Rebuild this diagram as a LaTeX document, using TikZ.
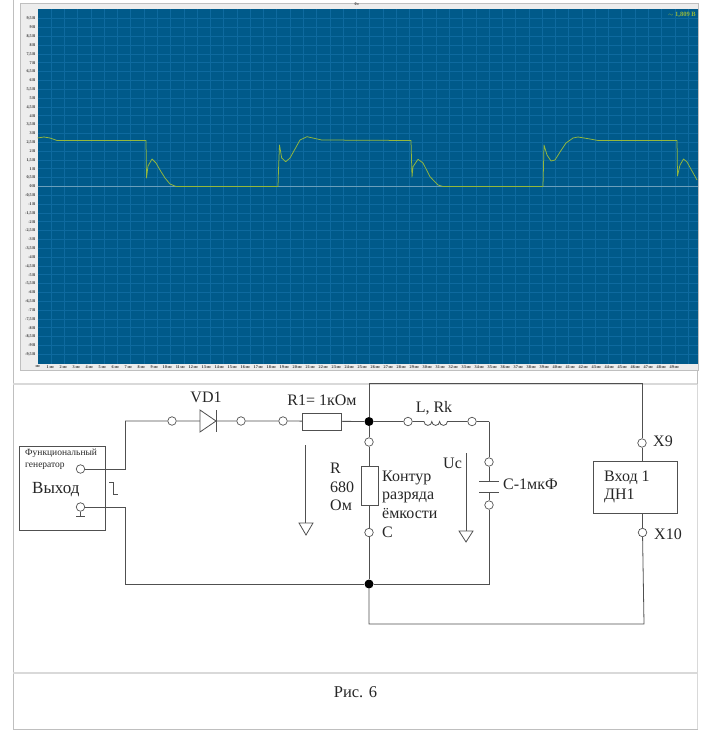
\documentclass[tikz,border=0pt]{standalone}
\usepackage{fontspec}
\setmainfont{Liberation Serif}
\definecolor{scopebg}{HTML}{005A8A}
\definecolor{scopegrid}{HTML}{0E6A9F}
\definecolor{scopetrace}{HTML}{94B83C}
\definecolor{wirecol}{HTML}{505050}
\begin{document}
\begin{tikzpicture}[x=1pt,y=-1pt]
        \tikzstyle{every node}=[inner sep=0pt,text=black!85]
        \tikzstyle{wire}=[draw=wirecol,line width=0.8pt]
        \tikzstyle{term}=[draw=wirecol,fill=white,circle,line width=0.7pt,minimum size=8.5pt]
        \tikzstyle{dot}=[fill=black,circle,minimum size=9pt]
        \tikzstyle{part}=[draw=wirecol,fill=white,line width=0.8pt,anchor=north west]
        \tikzstyle{lbl}=[font=\fontsize{16}{18.7}\selectfont,align=left,anchor=west]
        \tikzstyle{tick}=[font=\fontsize{4.2}{5}\selectfont\bfseries,text=black!80]
        \useasboundingbox (0,0) rectangle (708,743);
        % page table
        \draw[black!25,line width=1pt] (13,0) -- (13,729) -- (697,729) -- (697,370);
        \draw[black!15,line width=1.4pt] (13,384) -- (697,384) (13,673) -- (697,673);
        \draw[black!15,line width=1pt] (697,384) -- (697,729);
        % scope
        \draw[black!25,fill=black!7,line width=0.8pt] (20,3) rectangle (698,370);
        \fill[scopebg] (37.5,9.5) rectangle (698,363.5);
        \foreach \n in {1,...,49} \draw[scopegrid,line width=0.8pt] ({38+13.27*\n},9.5) -- ({38+13.27*\n},363.5);
        \foreach \n in {-19,...,19} \draw[scopegrid,line width=0.8pt] (37.5,{186.5-8.83*\n}) -- (698,{186.5-8.83*\n});
        \foreach \n in {-19,...,19} {
            \pgfmathtruncatemacro{\whole}{abs(\n)/2}
            \pgfmathtruncatemacro{\half}{mod(abs(\n),2)}
            \node[tick,anchor=east] (ylab\n) at (35.5,{186.5-8.83*\n}) {\ifnum\n<0 -\fi\whole\ifnum\half=1 ,5\fi\,В};
        }
        \node[tick] (xlab0) at (38,367) {мс};
        \foreach \n in {1,...,49} \node[tick] (xlab\n) at ({37.5+13.0*\n},367) {\n\,мс};
        \node[tick] (toplab) at (357,4.5) {0\,с};
        \draw[white!42!scopebg,line width=1pt] (37.5,186.5) -- (698,186.5);
        \draw[scopetrace,line width=0.75pt,line join=round] (37.5,138) -- (44,137) -- (50,138) -- (57,140.5) -- (146,140.5) -- (146.5,178) -- (148,166) -- (152,159) -- (156,163) -- (160,170) -- (165,178) -- (170,184) -- (176,186.5) -- (278,186.5) -- (278.5,170) -- (279.5,145) -- (281.7,158) -- (285.7,161.7) -- (290,158) -- (295,149) -- (300,140) -- (307,136.7) -- (321.7,140) -- (411,140.5) -- (412,177) -- (413,166.7) -- (418,159.3) -- (423,163) -- (430,176.7) -- (438,185) -- (443,186.5) -- (543,186.5) -- (544,145) -- (547,155) -- (551,161) -- (555,160) -- (560,152) -- (566,143) -- (573,138) -- (578,137) -- (590,139) -- (598,140.5) -- (677,140.5) -- (677.5,176) -- (680,165) -- (683.5,159) -- (687,162) -- (692,171) -- (697,180);
        \node[font=\fontsize{6.5}{8}\selectfont\bfseries,text=scopetrace,anchor=east] (reading) at (696,14.5) {$\sim$ 1,809 В};
        % generator
        \node[part,minimum width=86pt,minimum height=84pt] (gen) at (19,446) {};
        \node[font=\fontsize{9.5}{12}\selectfont,align=left,anchor=north west] (gentxt) at (25,449) {Функциональный\\генератор};
        \node[lbl,font=\fontsize{17}{19}\selectfont] (vyhod) at (32,490) {Выход};
        \node[term] (out1) at (80.5,469) {};
        \node[term] (out2) at (80.5,507) {};
        \coordinate (up) at (125,421);
        \coordinate (dn) at (125,584);
        \draw[wire] (out1) -- (125,469) -- (up);
        \draw[wire] (out2) -- (125,507) -- (dn);
        \draw[wire] (out2) -- (80.5,516) (76,516.5) -- (85,516.5);
        \draw[wire,line width=0.6pt] (109,482) -- (113,482) -- (113,494) -- (118,494);
        % top branch
        \node[term] (t1) at (172,421) {};
        \node[term] (t2) at (241,421) {};
        \node[term] (t3) at (283,421) {};
        \node[dot] (top) at (369,421.5) {};
        \node[term] (t4) at (408,421.5) {};
        \node[term] (t5) at (472,421.5) {};
        \coordinate (corner) at (489,421.5);
        \draw[wire] (up) -- (t1) -- (t2) (t2) -- (t3) -- (top) -- (t4) (t5) -- (corner);
        \draw[wire,fill=white] (200,410) -- (216,421) -- (200,432) -- cycle;
        \draw[wire] (216,410) -- (216,432);
        \node[part,minimum width=39pt,minimum height=17pt] (r1) at (302,413) {};
        \draw[wire] (t4) -- (424,421.5) arc (180:0:3.9) arc (180:0:3.9) arc (180:0:3.9) -- (t5);
        \node[lbl,anchor=center] (vd) at (206,397) {VD1};
        \node[lbl,anchor=center] (r1lab) at (322,400) {R1= 1кОм};
        \node[lbl,anchor=center] (llab) at (434,408) {L, Rk};
        % discharge branch
        \node[term] (r2a) at (369,442) {};
        \node[term] (r2b) at (369,532.5) {};
        \node[dot] (bot) at (369,584) {};
        \draw[wire] (top) -- (r2a) -- (r2b) -- (bot);
        \node[part,minimum width=17pt,minimum height=39pt] (r2) at (360.5,466) {};
        \node[lbl] (rlab) at (330,487) {R\\680\\Ом};
        \node[lbl] (klab) at (382,504) {Контур\\разряда\\ёмкости\\С};
        % capacitor branch
        \node[term] (c1) at (489,462) {};
        \node[term] (c2) at (489,505) {};
        \coordinate (cap1) at (489,481);
        \coordinate (cap2) at (489,492);
        \draw[wire] (corner) -- (c1) -- (cap1) (cap2) -- (c2) -- (489,584) -- (bot);
        \draw[wire] (479,481) -- (499,481) (479,492) -- (499,492);
        \node[lbl] (clab) at (503,484) {С-1мкФ};
        \node[lbl] (uclab) at (443,463) {Uc};
        \draw[wire] (dn) -- (bot);
        % voltage arrows
        \draw[wire] (305,445) -- (305,523);
        \draw[wire,fill=white] (299,523) -- (313,523) -- (306,535) -- cycle;
        \draw[wire] (466,453) -- (466,531);
        \draw[wire,fill=white] (459,531) -- (473,531) -- (466,542) -- cycle;
        % input block
        \node[part,minimum width=84pt,minimum height=52pt] (inp) at (593,461) {};
        \node[lbl] (inplab) at (604,487) {Вход 1\\ДН1};
        \node[term] (x9) at (642,443) {};
        \node[term] (x10) at (642.5,532.5) {};
        \node[lbl] (x9lab) at (653,441) {X9};
        \node[lbl] (x10lab) at (654,534) {X10};
        \draw[wire] (top) -- (369,383) -- (642,383) -- (x9) -- (inp.north -| x9);
        \draw[wire] (inp.south -| x10) -- (x10) -- (644,624) -- (369,624) -- (bot);
        \node[font=\fontsize{16.5}{20}\selectfont] (cap) at (355.5,692) {Рис. 6};
    \end{tikzpicture}
\end{document}
